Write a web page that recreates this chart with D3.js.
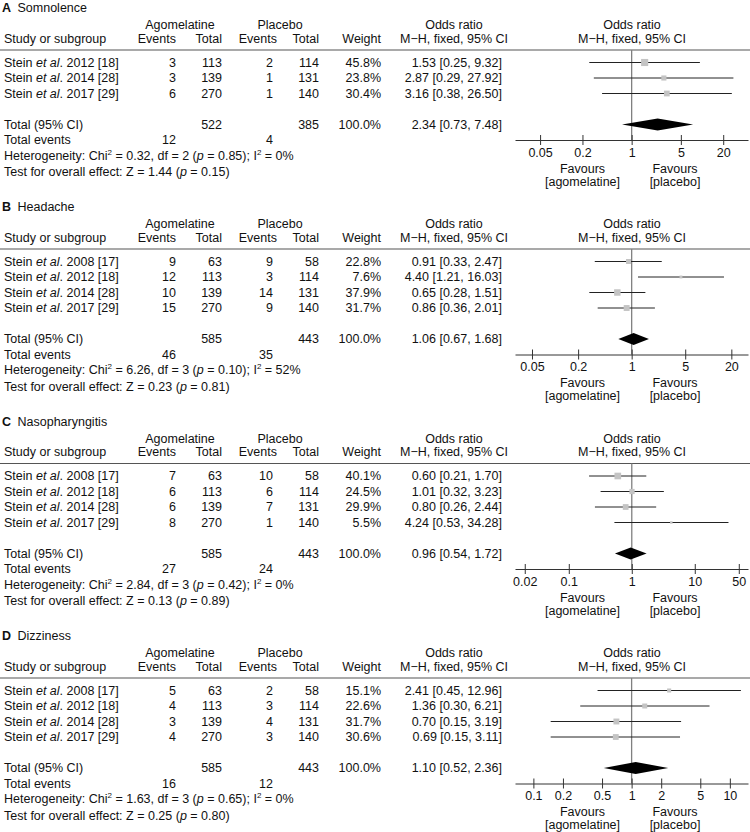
<!DOCTYPE html>
<html>
<head>
<meta charset="utf-8">
<script src="https://cdn.jsdelivr.net/npm/d3@7"></script>
<style>
  body { margin: 0; background: #fff; }
  svg text { font-family: "Liberation Sans", Arial, sans-serif; font-size: 12.5px; fill: #111; }
</style>
</head>
<body>
<div id="chart"></div>
<script>
// panel data, one entry per panel (A-D)
const panelLetters = ["A", "B", "C", "D"];
const panelTitles = ["Somnolence", "Headache", "Nasopharyngitis", "Dizziness"];

const studyYears = [
  ["2012 [18]", "2014 [28]", "2017 [29]"],
  ["2008 [17]", "2012 [18]", "2014 [28]", "2017 [29]"],
  ["2008 [17]", "2012 [18]", "2014 [28]", "2017 [29]"],
  ["2008 [17]", "2012 [18]", "2014 [28]", "2017 [29]"]
];
const agoEvents = [[3, 3, 6], [9, 12, 10, 15], [7, 6, 6, 8], [5, 4, 3, 4]];
const agoTotals = [[113, 139, 270], [63, 113, 139, 270], [63, 113, 139, 270], [63, 113, 139, 270]];
const plcEvents = [[2, 1, 1], [9, 3, 14, 9], [10, 6, 7, 1], [2, 3, 4, 3]];
const plcTotals = [[114, 131, 140], [58, 114, 131, 140], [58, 114, 131, 140], [58, 114, 131, 140]];
const weights = [[45.8, 23.8, 30.4], [22.8, 7.6, 37.9, 31.7], [40.1, 24.5, 29.9, 5.5], [15.1, 22.6, 31.7, 30.6]];
const oddsRatios = [[1.53, 2.87, 3.16], [0.91, 4.40, 0.65, 0.86], [0.60, 1.01, 0.80, 4.24], [2.41, 1.36, 0.70, 0.69]];
const ciLow = [[0.25, 0.29, 0.38], [0.33, 1.21, 0.28, 0.36], [0.21, 0.32, 0.26, 0.53], [0.45, 0.30, 0.15, 0.15]];
const ciHigh = [[9.32, 27.92, 26.50], [2.47, 16.03, 1.51, 2.01], [1.70, 3.23, 2.44, 34.28], [12.96, 6.21, 3.19, 3.11]];

const totalAgo = [522, 585, 585, 585];
const totalPlc = [385, 443, 443, 443];
const totalAgoEvents = [12, 46, 27, 16];
const totalPlcEvents = [4, 35, 24, 12];
const pooledOR = [2.34, 1.06, 0.96, 1.10];
const pooledLow = [0.73, 0.67, 0.54, 0.52];
const pooledHigh = [7.48, 1.68, 1.72, 2.36];

const hetChi = ["0.32", "6.26", "2.84", "1.63"];
const hetDf = [2, 3, 3, 3];
const hetP = ["0.85", "0.10", "0.42", "0.65"];
const hetI2 = ["0%", "52%", "0%", "0%"];
const testZ = ["1.44", "0.23", "0.13", "0.25"];
const testP = ["0.15", "0.81", "0.89", "0.80"];

const axisTicks = [
  [0.05, 0.2, 1, 5, 20],
  [0.05, 0.2, 1, 5, 20],
  [0.02, 0.1, 1, 10, 50],
  [0.1, 0.2, 0.5, 1, 2, 5, 10]
];
const axisDomains = [[0.022, 45], [0.03, 33], [0.014, 70], [0.065, 15.3]];

// layout
const W = 750, H = 832;
const rowH = 15.5;
const col = { study: 4, agoEv: 176, agoTot: 222, plcEvHead: 277, plcEv: 273, plcTot: 319, weight: 381, orText: 502,
  agoHead: 180, plcHead: 280, orHead: 454, plotHead: 632, favL: 582.5, favR: 675 };
const plotRange = [515, 748];

const svg = d3.select("#chart").append("svg")
  .attr("width", W).attr("height", H);

function addText(g, x, y, parts, anchor) {
  const t = g.append("text")
    .attr("x", x).attr("y", y).attr("dy", "0.35em")
    .attr("text-anchor", anchor || "start");
  parts.forEach(p => {
    if (typeof p === "string") { t.append("tspan").text(p); return; }
    const s = t.append("tspan").text(p.t);
    if (p.i) s.style("font-style", "italic");
    if (p.b) s.style("font-weight", "bold");
    if (p.sup) s.attr("dy", "-5").style("font-size", "8px");
    if (p.down) s.attr("dy", "5");
  });
  return t;
}

const sizeScale = d3.scaleSqrt().domain([0, 100]).range([0, 10.5]);

let panelTop = 8;
panelLetters.forEach((letter, k) => {
  const n = studyYears[k].length;
  const g = svg.append("g");
  const x = d3.scaleLog().domain(axisDomains[k]).range(plotRange);
  const t0 = panelTop;

  // title
  addText(g, 2, t0, [{ t: letter, b: true }]);
  addText(g, 17.5, t0, [panelTitles[k]]);

  // header
  const h1 = t0 + 17, h2 = t0 + 30.5;
  addText(g, col.agoHead, h1, ["Agomelatine"], "middle");
  addText(g, col.plcHead, h1, ["Placebo"], "middle");
  addText(g, col.orHead, h1, ["Odds ratio"], "middle");
  addText(g, col.plotHead, h1, ["Odds ratio"], "middle");
  addText(g, col.study, h2, ["Study or subgroup"]);
  addText(g, col.agoEv, h2, ["Events"], "end");
  addText(g, col.agoTot, h2, ["Total"], "end");
  addText(g, col.plcEvHead, h2, ["Events"], "end");
  addText(g, col.plcTot, h2, ["Total"], "end");
  addText(g, col.weight, h2, ["Weight"], "end");
  addText(g, col.orHead, h2, ["M\u2212H, fixed, 95% CI"], "middle");
  addText(g, col.plotHead, h2, ["M\u2212H, fixed, 95% CI"], "middle");

  const ruleY = t0 + 42;
  g.append("line").attr("x1", 0).attr("x2", W).attr("y1", ruleY).attr("y2", ruleY)
    .attr("stroke", "#555").attr("stroke-width", 1.2);

  const rowY = i => t0 + 54.5 + rowH * i;
  const totalY = rowY(n + 1);
  const axisY = totalY + rowH;

  // line of no effect
  g.append("line").attr("x1", x(1)).attr("x2", x(1)).attr("y1", ruleY).attr("y2", axisY)
    .attr("stroke", "#808080").attr("stroke-width", 1.3);

  // study rows
  studyYears[k].forEach((yr, i) => {
    const y = rowY(i);
    addText(g, col.study, y, ["Stein ", { t: "et al", i: true }, ". " + yr]);
    addText(g, col.agoEv, y, [String(agoEvents[k][i])], "end");
    addText(g, col.agoTot, y, [String(agoTotals[k][i])], "end");
    addText(g, col.plcEv, y, [String(plcEvents[k][i])], "end");
    addText(g, col.plcTot, y, [String(plcTotals[k][i])], "end");
    addText(g, col.weight, y, [weights[k][i].toFixed(1) + "%"], "end");
    addText(g, col.orText, y,
      [oddsRatios[k][i].toFixed(2) + " [" + ciLow[k][i].toFixed(2) + ", " + ciHigh[k][i].toFixed(2) + "]"], "end");

    g.append("line")
      .attr("x1", x(ciLow[k][i])).attr("x2", x(ciHigh[k][i]))
      .attr("y1", y).attr("y2", y)
      .attr("stroke", "#222").attr("stroke-width", 1);
    const s = sizeScale(weights[k][i]);
    g.append("rect")
      .attr("x", x(oddsRatios[k][i]) - s / 2).attr("y", y - s / 2)
      .attr("width", s).attr("height", s)
      .attr("fill", "#c4c4c4");
  });

  // totals
  addText(g, col.study, totalY, ["Total (95% CI)"]);
  addText(g, col.agoTot, totalY, [String(totalAgo[k])], "end");
  addText(g, col.plcTot, totalY, [String(totalPlc[k])], "end");
  addText(g, col.weight, totalY, ["100.0%"], "end");
  addText(g, col.orText, totalY,
    [pooledOR[k].toFixed(2) + " [" + pooledLow[k].toFixed(2) + ", " + pooledHigh[k].toFixed(2) + "]"], "end");

  const dh = 6;
  g.append("path")
    .attr("d", "M" + x(pooledLow[k]) + "," + totalY +
      "L" + x(pooledOR[k]) + "," + (totalY - dh) +
      "L" + x(pooledHigh[k]) + "," + totalY +
      "L" + x(pooledOR[k]) + "," + (totalY + dh) + "Z")
    .attr("fill", "#000");

  const evY = totalY + rowH;
  addText(g, col.study, evY, ["Total events"]);
  addText(g, col.agoEv, evY, [String(totalAgoEvents[k])], "end");
  addText(g, col.plcEv, evY, [String(totalPlcEvents[k])], "end");

  addText(g, col.study, totalY + 2 * rowH, [
    "Heterogeneity: Chi", { t: "2", sup: true }, { t: " = " + hetChi[k] + ", df = " + hetDf[k] + " (", down: true },
    { t: "p", i: true }, " = " + hetP[k] + "); I", { t: "2", sup: true }, { t: " = " + hetI2[k], down: true }
  ]);
  addText(g, col.study, totalY + 3 * rowH + 1, [
    "Test for overall effect: Z = " + testZ[k] + " (", { t: "p", i: true }, " = " + testP[k] + ")"
  ]);

  // axis
  const ax = g.append("g").attr("transform", "translate(0," + axisY + ")")
    .call(d3.axisBottom(x).tickValues(axisTicks[k]).tickFormat(d => String(d))
      .tickSizeInner(5).tickSizeOuter(0).tickPadding(3));
  ax.select(".domain").attr("stroke", "#333");
  ax.selectAll(".tick line").attr("y1", -5).attr("stroke", "#333");
  ax.selectAll(".tick text")
    .style("font-family", "\"Liberation Sans\", Arial, sans-serif")
    .style("font-size", "12.5px").attr("fill", "#111");

  addText(g, col.favL, axisY + 28.5, ["Favours"], "middle");
  addText(g, col.favL, axisY + 41.5, ["[agomelatine]"], "middle");
  addText(g, col.favR, axisY + 28.5, ["Favours"], "middle");
  addText(g, col.favR, axisY + 41.5, ["[placebo]"], "middle");

  panelTop += 152.5 + rowH * n;
});
</script>
</body>
</html>
